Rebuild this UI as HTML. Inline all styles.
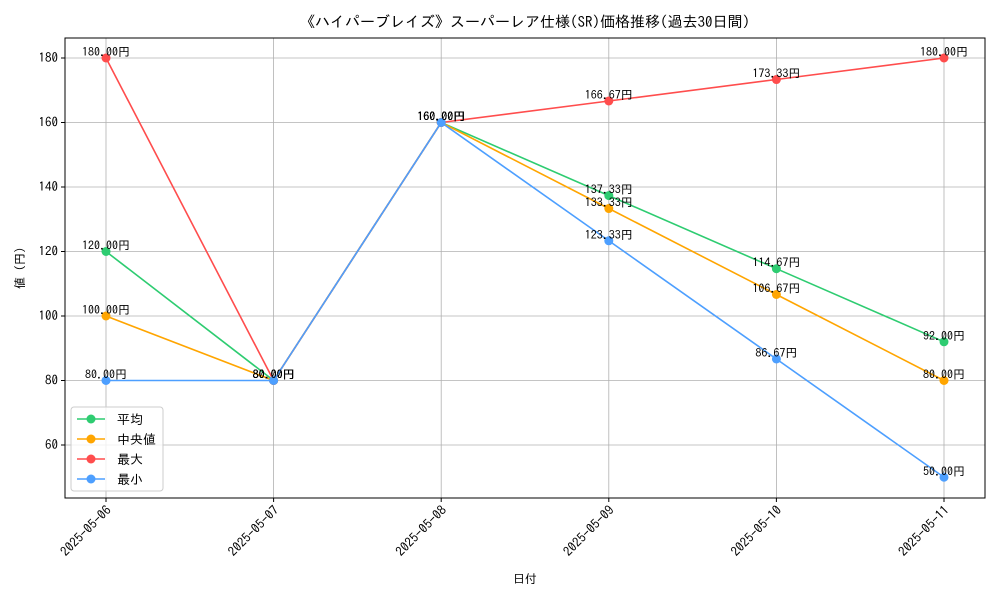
<!DOCTYPE html>
<html><head><meta charset="utf-8"><style>
body{margin:0;background:#fff;}
svg text{font-family:"IPAGothic","Noto Sans CJK JP",monospace;}
</style></head><body>
<svg id="c" width="1000" height="600" xmlns="http://www.w3.org/2000/svg"></svg>
<script>
const categories=["2025-05-06","2025-05-07","2025-05-08","2025-05-09","2025-05-10","2025-05-11"];
const avgValues=[120,80,160,137.33,114.67,92];
const medianValues=[100,80,160,133.33,106.67,80];
const maxValues=[180,80,160,166.67,173.33,180];
const minValues=[80,80,160,123.33,86.67,50];
const yTicks=[60,80,100,120,140,160,180];
const seriesNames=["平均","中央値","最大","最小"];
const NS="http://www.w3.org/2000/svg";
const svg=document.getElementById('c');
const L=65,R=985,T=38,B=498;
const x0=106,x1=944;
function xs(i){return x0+(x1-x0)*i/(categories.length-1);}
function ys(v){return 445+(60-v)*(445-58)/120;}
function mk(tag,attrs,parent){const e=document.createElementNS(NS,tag);for(const k in attrs)e.setAttribute(k,attrs[k]);(parent||svg).appendChild(e);return e;}
let t=mk('text',{x:525,y:27,'text-anchor':'middle','font-size':15});


t.textContent='《ハイパーブレイズ》スーパーレア仕様(SR)価格推移(過去30日間)';
const grid=mk('g',{});


categories.forEach((c,i)=>{
  mk('line',{x1:xs(i),x2:xs(i),y1:T,y2:B,stroke:'#b0b0b0','stroke-width':0.8},grid);
  mk('line',{x1:xs(i),x2:xs(i),y1:B,y2:B+4,stroke:'#000'});
  const lb=mk('text',{x:0,y:0,'text-anchor':'end','font-size':13,transform:`translate(${xs(i)+6},${B+13}) rotate(-45)`});
  
  
  lb.textContent=c;
});
yTicks.forEach(v=>{
  mk('line',{x1:L,x2:R,y1:ys(v),y2:ys(v),stroke:'#b0b0b0','stroke-width':0.8},grid);
  mk('line',{x1:L-4,x2:L,y1:ys(v),y2:ys(v),stroke:'#000'});
  const lb=mk('text',{x:L-7,y:ys(v)+4,'text-anchor':'end','font-size':13});
  
  
  lb.textContent=v;
});
const fr=mk('rect',{x:L,y:T,width:R-L,height:B-T,fill:'none',stroke:'#000','stroke-width':1});


let xt=mk('text',{x:525,y:583,'text-anchor':'middle','font-size':12});


xt.textContent='日付';
let yt=mk('text',{x:0,y:0,'text-anchor':'middle','font-size':12,transform:'translate(24,268) rotate(-90)'});


yt.textContent='値 (円)';
const series=[[avgValues,'#2ecc71'],[medianValues,'#ffa500'],[maxValues,'#ff4d4d'],[minValues,'#4d9fff']];
series.forEach(([vals,col],si)=>{
  const g=mk('g',{});
  
  
  mk('polyline',{points:vals.map((v,i)=>xs(i)+','+ys(v)).join(' '),fill:'none',stroke:col,'stroke-width':1.6},g);
  vals.forEach((v,i)=>{
    const p=mk('circle',{cx:xs(i),cy:ys(v),r:4.5,fill:col},g);
    
    
    const lb=mk('text',{x:xs(i),y:ys(v)-2,'text-anchor':'middle','font-size':12},g);
    
    
    lb.textContent=v.toFixed(2)+'円';
  });
});
const lg=mk('g',{});


mk('rect',{x:71,y:407,width:92,height:84,rx:3,fill:'#fff','fill-opacity':0.8,stroke:'#ccc'},lg);
series.forEach(([v,col],i)=>{
  const y=419+i*20;
  mk('line',{x1:77,x2:105,y1:y,y2:y,stroke:col,'stroke-width':1.6},lg);
  mk('circle',{cx:91,cy:y,r:4.5,fill:col},lg);
  const e=mk('text',{x:117,y:y+5,'font-size':13},lg);
  
  
  e.textContent=seriesNames[i];
});
</script>
</body></html>
